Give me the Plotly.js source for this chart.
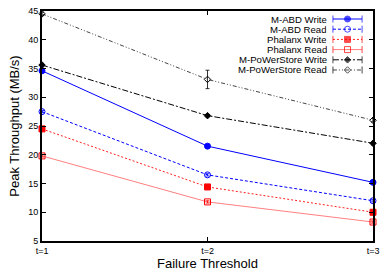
<!DOCTYPE html>
<html>
<head>
<meta charset="utf-8">
<script src="https://cdn.plot.ly/plotly-3.0.1.min.js"></script>
<style>html,body{margin:0;padding:0;background:#fff}#chart{width:390px;height:273px}</style>
</head>
<body>
<div id="chart"></div>
<script>
// ---- data ----
var thresholds = ["t=1", "t=2", "t=3"];
var seriesNames = ["M-ABD Write", "M-ABD Read", "Phalanx Write", "Phalanx Read", "M-PoWerStore Write", "M-PoWerStore Read"];
var mabdWrite = [34.6, 21.5, 15.2];
var mabdRead = [27.5, 16.5, 12.0];
var phalanxWrite = [24.5, 14.4, 10.0];
var phalanxRead = [19.8, 11.8, 8.3];
var mpwsWrite = [35.6, 26.8, 22.0];
var mpwsRead = [44.5, 33.1, 26.0];
var mabdWriteErr = [0.2, 0.2, 0.2];
var mabdReadErr = [0.2, 0.2, 0.2];
var phalanxWriteErr = [0.3, 0.2, 0.3];
var phalanxReadErr = [0.2, 0.2, 0.2];
var mpwsWriteErr = [0.3, 0.2, 0.3];
var mpwsReadErr = [0.3, 1.6, 0.3];
var yTicks = [5, 10, 15, 20, 25, 30, 35, 40, 45];

// ---- styles ----
var styles = [
  {color: "#0000ff", lc: "#0000ff", dash: "solid", symbol: "circle", size: 6},
  {color: "#0000ff", lc: "#0000ff", dash: "3px,2px", symbol: "circle-open", size: 6},
  {color: "#ff0000", lc: "#ff2020", dash: "2px,2px", symbol: "square", size: 6},
  {color: "#ff0000", lc: "rgba(255,0,0,0.5)", dash: "solid", symbol: "square-open", size: 6},
  {color: "#000000", lc: "#000000", dash: "6px,2px,2px,2px", symbol: "diamond", size: 5},
  {color: "#000000", lc: "#444444", dash: "4px,2px,1px,2px,1px,2px", symbol: "diamond-open", size: 5}
];
var values = [mabdWrite, mabdRead, phalanxWrite, phalanxRead, mpwsWrite, mpwsRead];
var errs = [mabdWriteErr, mabdReadErr, phalanxWriteErr, phalanxReadErr, mpwsWriteErr, mpwsReadErr];

var traces = [];
values.forEach(function (v, i) {
  var s = styles[i];
  traces.push({
    x: thresholds, y: v, name: seriesNames[i], type: "scatter", mode: "lines+markers",
    line: {color: s.lc, width: 1, dash: s.dash},
    marker: {color: s.color, symbol: s.symbol, size: s.size, line: {color: s.color, width: 1}},
    error_y: {type: "data", array: errs[i], visible: true, color: s.color, thickness: 0.8, width: 2},
    showlegend: false, cliponaxis: false
  });
});

// ---- custom legend (text left, sample right) ----
var legRows = [0.9652, 0.9209, 0.8765, 0.8322, 0.7878, 0.7435];
var annotations = [];
seriesNames.forEach(function (n, i) {
  var s = styles[i];
  var yy = legRows[i];
  traces.push({
    x: [0.879, 0.923, 0.967], y: [yy, yy, yy], xaxis: "x2", yaxis: "y2",
    type: "scatter", mode: "lines+markers", showlegend: false, hoverinfo: "skip",
    line: {color: s.lc, width: 1, dash: s.dash},
    marker: {color: s.color, symbol: ["line-ns", s.symbol, "line-ns"], size: [5, s.size, 5],
             line: {color: s.color, width: 1}}
  });
  annotations.push({
    xref: "paper", yref: "paper", x: 0.864, y: yy, xanchor: "right", yanchor: "middle",
    height: 9, valign: "middle", borderpad: 0,
    text: n, showarrow: false, font: {size: 9.6, color: "#000"}
  });
});

var font = "Liberation Sans, Arial, Helvetica, sans-serif";
var layout = {
  width: 390, height: 273,
  margin: {l: 42, r: 17, t: 11, b: 32},
  paper_bgcolor: "#fff", plot_bgcolor: "#fff",
  font: {family: font, size: 9, color: "#000"},
  showlegend: false,
  xaxis: {
    type: "category", range: [0, 2], showgrid: false, zeroline: false,
    showline: true, linecolor: "#000", linewidth: 2, mirror: "ticks",
    ticks: "inside", ticklen: 4, tickcolor: "#000", tickwidth: 1,
    tickfont: {size: 9, family: font},
    title: {text: "Failure Threshold", font: {size: 13, family: font}, standoff: 3}
  },
  yaxis: {
    range: [5, 45], tickvals: yTicks, showgrid: false, zeroline: false,
    showline: true, linecolor: "#000", linewidth: 2, mirror: "ticks",
    ticks: "inside", ticklen: 4, tickcolor: "#000", tickwidth: 1,
    tickfont: {size: 9, family: font},
    title: {text: "Peak Throughput (MB/s)", font: {size: 13, family: font}, standoff: 6}
  },
  xaxis2: {overlaying: "x", range: [0, 1], visible: false, fixedrange: true},
  yaxis2: {overlaying: "y", range: [0, 1], visible: false, fixedrange: true},
  annotations: annotations
};

Plotly.newPlot("chart", traces, layout, {staticPlot: true, displayModeBar: false});
</script>
</body>
</html>
